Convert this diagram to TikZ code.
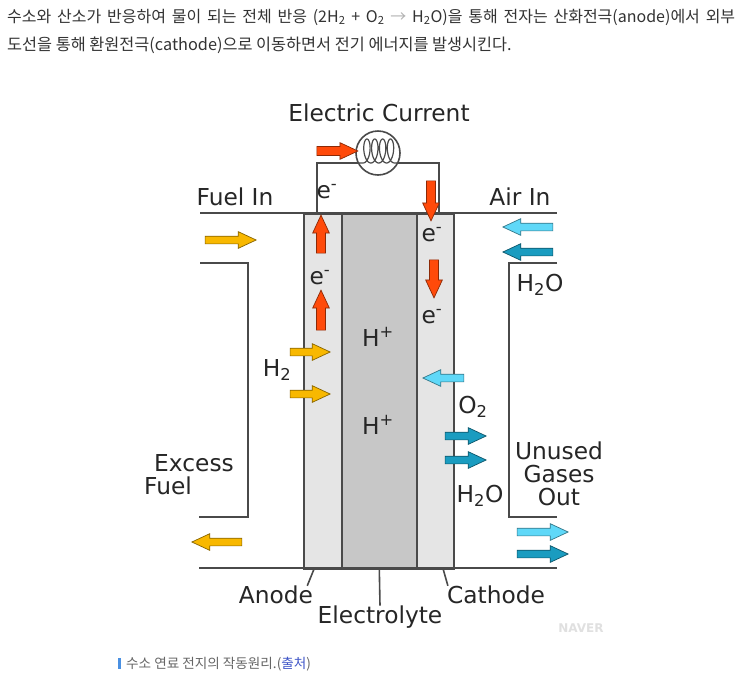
\documentclass[tikz,border=0pt]{standalone}
\usepackage{fontspec}
\usepackage{graphicx}
\setmainfont{DejaVu Sans}
\newfontfamily\krfont{Noto Sans CJK KR}
\usetikzlibrary{shapes.arrows}
\definecolor{fuelc}{HTML}{F8B800}
\definecolor{elecc}{HTML}{FF4A0A}
\definecolor{airc}{HTML}{5FD8F8}
\definecolor{waterc}{HTML}{1A9CC0}
\definecolor{linec}{HTML}{4A4A4A}
\definecolor{capc}{HTML}{666666}
\definecolor{linkc}{HTML}{4056C8}
\definecolor{barc}{HTML}{4A90E2}
\tikzset{
  flow/.style={single arrow, draw=#1!55!black, fill=#1, line width=0.7pt,
    single arrow head extend=4.5pt, single arrow tip angle=50,
    inner xsep=0pt, inner ysep=3.5pt, minimum height=40pt},
  fuel/.style={flow=fuelc},
  air/.style={flow=airc},
  water/.style={flow=waterc},
  elec/.style={flow=elecc, inner ysep=4.2pt, single arrow head extend=3.8pt},
  wall/.style={draw=linec, line width=1.6pt},
  layer/.style={wall, anchor=north west, inner sep=0pt, minimum height=355pt},
  lbl/.style={font=\fontsize{23.3}{23}\selectfont, text=black!85, inner sep=0pt},
  krtext/.style={font=\krfont\fontsize{16}{17}\selectfont, text=black!80, inner sep=0pt, anchor=west},
}
\begin{document}
\begin{tikzpicture}[x=1pt,y=-1pt]
\path[fill=white, use as bounding box] (0,0) rectangle (743,697);
\node[krtext] (line1) at (7,17) {\makebox[728pt][s]{수소와 산소가 반응하여 물이 되는 전체 반응 (2H\textsubscript{2} + O\textsubscript{2} {\color{black!30}→} H\textsubscript{2}O)을 통해 전자는 산화전극(anode)에서 외부}};
\node[krtext, font=\krfont\fontsize{16.3}{17}\selectfont] (line2) at (7,45) {도선을 통해 환원전극(cathode)으로 이동하면서 전기 에너지를 발생시킨다.};

\node[layer, fill=black!10, minimum width=38pt] (anode) at (303,213) {};
\node[layer, fill=black!22, minimum width=75pt] (electrolyte) at (341,213) {};
\node[layer, fill=black!10, minimum width=37pt] (cathode) at (416,213) {};
\draw[wall] (200,213) -- (557,213);
\draw[wall] (199,568) -- (557,568);
\draw[wall] (200,263) -- (248,263) -- (248,517) -- (199,517);
\draw[wall] (557,263) -- (509,263) -- (509,517) -- (557,517);

\coordinate (wa) at (317,213);
\coordinate (wc) at (439,213);
\coordinate (wt1) at (317,163);
\coordinate (wt2) at (439,163);
\draw[wall] (wa) -- (wt1) -- (wt2) -- (wc);
\node[wall, circle, fill=white, minimum size=44pt, inner sep=0pt] (bulb) at (378,153) {};
\draw[linec, line width=1.2pt, smooth, samples=140, domain=0:25.13]
  (359,163) -- plot ({363+1.25*\x+5*sin(\x r)},{151+12*cos(\x r)}) -- (398,163);

\node[lbl] (current) at (379,113) {Electric Current};
\node[lbl] (fuelin) at (235,197) {Fuel In};
\node[lbl] (airin) at (520,197) {Air In};
\node[lbl] (ewire) at (327,192) {e\textsuperscript{-}};
\node[lbl] (ea) at (320,278) {e\textsuperscript{-}};
\node[lbl] (ec1) at (432,235) {e\textsuperscript{-}};
\node[lbl] (ec2) at (432,317) {e\textsuperscript{-}};
\node[lbl] (hp1) at (378,337) {H\textsuperscript{+}};
\node[lbl] (hp2) at (378,425) {H\textsuperscript{+}};
\node[lbl] (htwo) at (277,370) {H\textsubscript{2}};
\node[lbl] (otwo) at (473,407) {O\textsubscript{2}};
\node[lbl] (wtop) at (540,285) {H\textsubscript{2}O};
\node[lbl] (wbot) at (480,496) {H\textsubscript{2}O};
\node[lbl, align=center] (unused) at (559,474) {Unused\\Gases\\Out};
\node[lbl] (excess) at (194,463) {Excess};
\node[lbl] (excessfuel) at (168,486) {Fuel};
\node[lbl] (anodelbl) at (276,595) {Anode};
\node[lbl] (cathodelbl) at (496,595) {Cathode};
\node[lbl] (electrolytelbl) at (380,617) {Electrolyte};
\draw[wall] ([xshift=-9pt]anode.south) -- ([xshift=-6pt]anodelbl.north east);
\draw[wall] (electrolyte.south) -- (electrolytelbl.north);
\draw[wall] ([xshift=8pt]cathode.south) -- ([xshift=1pt]cathodelbl.north west);

\node[elec, minimum height=41pt] (eb) at (332.5,151) {};
\node[elec, rotate=-90] (ed1) at (431,196) {};
\node[elec, rotate=-90, minimum height=38pt] (ed2) at (434,274) {};
\node[elec, rotate=90, minimum height=38pt] (eu1) at (321,239) {};
\node[elec, rotate=90] (eu2) at (321,315) {};

\node[fuel, minimum height=51pt] (fin) at (226.5,240) {};
\node[fuel, minimum height=50pt, rotate=180] (fout) at (221,542) {};
\foreach \y/\n in {352/h1,394/h2}
  \node[fuel] (\n) at (306,\y) {};
\node[air, minimum height=50pt, rotate=180] (ain) at (532,227) {};
\node[water, minimum height=50pt, rotate=180] (win) at (532,252) {};
\node[air, minimum height=41pt, rotate=180] (o1) at (447.5,378) {};
\foreach \y/\n in {436/w1,460/w2}
  \node[water, minimum height=41pt] (\n) at (461.5,\y) {};
\node[air, minimum height=51pt] (aout) at (538.5,532) {};
\node[water, minimum height=51pt] (wout) at (538.5,554) {};

\node[font=\bfseries\fontsize{12}{12}\selectfont, text=black!12, inner sep=0pt] (naver) at (581,628) {NAVER};
\fill[barc] (118,658) rectangle (120.5,669);
\node[krtext, font=\krfont\fontsize{13.6}{14}\selectfont, text=capc] (caption) at (126,664) {수소 연료 전지의 작동원리.({\color{linkc}출처})};
\end{tikzpicture}
\end{document}
